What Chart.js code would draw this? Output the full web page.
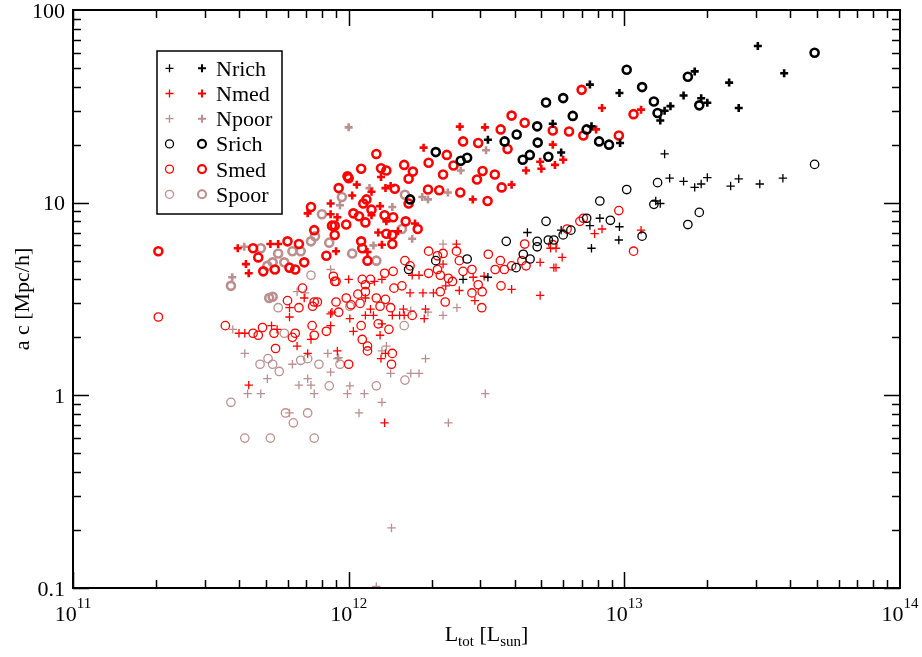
<!DOCTYPE html>
<html><head><meta charset="utf-8">
<script src="https://cdn.jsdelivr.net/npm/chart.js@4/dist/chart.umd.min.js"></script>
<style>html,body{margin:0;padding:0;background:#fff;}canvas{display:block;}</style>
</head><body>
<canvas id="c" width="922" height="657"></canvas>
<script>
// ---- axis ticks ----
const xTickValues = [1e11, 1e12, 1e13, 1e14];
const xTickExponents = ['11', '12', '13', '14'];
const yTickValues = [0.1, 1, 10, 100];
const yTickLabels = ['0.1', '1', '10', '100'];
const seriesNames = ['Nrich', 'Nmed', 'Npoor', 'Srich', 'Smed', 'Spoor'];

// ---- data: [L_tot (L_sun), value (Mpc/h)] ; "A" = upper (a) set, "C" = lower (c) set ----
const nrichA = [[3.05e13,65],[3.8e13,47],[2.4e13,42],[2.6e13,31],[1.8e13,48],[1.64e13,36],[1.9e13,34.8],[2.0e13,33],[1.47e13,31.7],[1.35e13,26.7],[1.4e13,30],[9.6e12,37.1],[7.5e12,41],[5.5e12,25.7],[7.6e12,24.9],[9.65e12,20.4],[5.9e12,18.2],[3.2e12,21.2]];
const nmedA = [[8.3e12,31],[1.15e13,30.4],[7.9e12,24],[5.5e12,20],[4.4e12,14.7],[2.53e12,24.8],[3.12e12,24.6],[1.87e12,19.3],[3.9e12,12.4],[2.82e12,10.4],[1.42e12,12.2],[1.36e12,11.9],[1.31e12,13.6],[1.07e12,12.4],[1.21e12,11.4],[1.03e12,10.9],[1.3e12,9.6],[9.1e11,8.4],[1.21e12,8.6],[1.37e12,8],[1.51e12,7.1],[1.74e12,7.8],[1.28e12,7],[1.17e12,5.55],[1.32e12,6.05],[7.1e11,8.8],[8.6e11,9.9],[8.6e11,8.7],[9.0e11,5.6],[5.2e11,6.1],[5.55e11,6.1],[3.96e11,5.8],[4.24e11,4.8],[4.34e11,4.3],[4.95e12,16.3],[5.0e12,15],[5.6e12,15.7],[6.0e12,16.7]];
const npoorA = [[1.0e12,24.6],[2.29e12,11.3],[1.85e12,10.7],[1.94e12,10.4],[1.19e12,11.9],[1.23e12,6],[4.18e11,5.9],[3.78e11,4.1],[2.55e12,14.7],[3.15e12,18.7],[1.44e12,9.5],[1.7e12,6.5],[9.3e11,9.7]];
const srichA = [[4.9e13,60],[1.02e13,49],[1.7e13,45],[1.87e13,32],[1.28e13,33.5],[1.32e13,29.2],[1.16e13,39.8],[6.0e12,34.9],[5.2e12,33.1],[6.5e12,28.2],[4.83e12,24.9],[7.3e12,24],[8.1e12,20.8],[8.8e12,20],[4.85e12,20.5],[5.3e12,17.3],[4.07e12,22.6],[3.68e12,20.8],[4.28e12,16.7],[4.54e12,17.7],[2.07e12,18.3],[2.69e12,17.1],[2.55e12,16.5],[1.67e12,10.4]];
const smedA = [[7.0e12,38.5],[1.08e13,28.8],[5.5e12,23.7],[6.3e12,23.4],[7.1e12,22.3],[9.55e12,22.3],[3.9e12,28.3],[3.56e12,24],[4.35e12,26],[3.77e12,19],[2.95e12,20.4],[2.6e12,20.8],[2.27e12,17.7],[1.95e12,16.1],[1.26e12,17.9],[1.59e12,15.7],[1.71e12,14.5],[2.2e12,14],[2.4e12,15.6],[3.06e12,14.6],[2.92e12,13.2],[3.39e12,14],[3.59e12,12],[3.19e12,10.2],[2.54e12,11.3],[2.13e12,11.6],[1.94e12,11.7],[1.65e12,13.3],[1.37e12,14.7],[1.47e12,11.8],[1.65e12,9.9],[1.31e12,15.1],[1.11e12,15],[9.9e11,13.7],[1.0e12,13.4],[9.2e11,11.9],[1.16e12,10.4],[1.13e12,9.9],[1.21e12,9.2],[1.04e12,8.8],[1.09e12,8.5],[9.8e11,7.7],[8.9e11,7.6],[1.15e12,7.9],[1.35e12,8.6],[1.45e12,8.4],[1.37e12,6.9],[1.44e12,6.8],[1.61e12,8],[1.78e12,7.3],[1.11e12,6.3],[1.12e12,5.8],[1.17e12,5],[1.44e12,6.1],[7.3e11,9.5],[8.7e11,7.6],[7.5e11,7.2],[8.9e11,6.8],[8.3e11,5.3],[6.6e11,6.1],[6.9e11,4.9],[6.4e11,4.5],[6.1e11,4.6],[6.0e11,6.3],[5.4e11,4.5],[4.9e11,4.4],[4.7e11,5.2],[4.5e11,5.8],[2.04e11,5.6]];
const spoorA = [[1.6e12,11],[9.45e11,10.7],[1.56e12,7.3],[1.03e12,5.45],[1.26e12,5],[8.0e11,8.7],[7.55e11,6.7],[7.3e11,6.3],[8.5e11,6.2],[6.25e11,5.6],[6.7e11,5.6],[5.84e11,4.9],[5.55e11,5.45],[5.3e11,4.9],[4.8e11,5.8],[5.07e11,4.7],[3.74e11,3.7],[5.15e11,3.2],[5.3e11,3.25]];

const nrichC = [[1.4e13,17.9],[3.76e13,13.4],[3.1e13,12.5],[2.6e13,13.3],[2.43e13,12.2],[2.0e13,13.5],[1.9e13,12.5],[1.8e13,12],[1.64e13,12.9],[1.46e13,13.4],[1.3e13,10.2],[1.35e13,9.9],[8.15e12,8.3],[7.5e12,7.6],[9.6e12,7.5],[9.55e12,6.4],[7.6e12,5.8],[5.9e12,7.2],[4.45e12,7],[2.6e12,4],[3.2e12,4.1]];
const nmedC = [[8.3e12,7.3],[7.8e12,6.9],[1.15e13,7.2],[5.65e12,5.8],[5.4e12,5.8],[5.95e12,5.2],[4.95e12,4.9],[5.55e12,4.6],[5.65e12,4.6],[4.95e12,3.3],[2.2e12,4.8],[2.46e12,6.1],[1.8e12,4.2],[1.7e12,4.2],[1.32e12,4.0],[1.0e12,4.0],[1.24e12,3.9],[1.67e12,3.4],[1.86e12,3.4],[2.03e12,3.4],[2.25e12,3.7],[2.52e12,3.5],[2.83e12,4.1],[2.87e12,3.1],[3.1e12,4.15],[3.9e12,3.55],[1.88e12,2.5],[1.9e12,2.8],[1.59e12,2.6],[1.53e12,2.6],[1.58e12,2.8],[1.32e12,2.35],[1.3e12,2.05],[1.04e12,2.15],[1.36e12,1.65],[1.31e12,1.55],[1.35e12,0.72],[9.1e11,1.7],[1.01e12,2.5],[1.15e12,2.6],[1.23e12,2.6],[1.2e12,2.8],[1.15e12,3.2],[1.44e12,2.6],[4.0e11,2.1],[4.2e11,2.1],[5.25e11,2.3],[5.5e11,2.2],[6.5e11,1.8],[7.3e11,1.95],[8.6e11,2.3],[8.7e11,2.7],[7.1e11,1.65],[4.34e11,1.13],[6.1e11,2.85],[6.1e11,2.55],[6.9e11,3.2],[8.6e11,2.65]];
const npoorC = [[2.2e12,6.1],[2.47e12,2.85],[2.2e12,2.6],[1.94e12,2.7],[1.68e12,2.75],[1.37e12,1.8],[1.32e12,1.7],[1.9e12,1.55],[1.68e12,1.3],[1.8e12,1.3],[1.42e12,1.3],[1.01e12,1.12],[9.9e11,1.02],[1.14e12,1.02],[1.32e12,0.92],[1.09e12,0.81],[2.3e12,0.72],[3.13e12,1.02],[9.2e11,1.57],[3.8e11,2.2],[4.2e11,1.65],[8.4e11,1.65],[6.25e11,1.45],[9.1e11,1.55],[8.6e11,1.32],[5.07e11,1.22],[4.3e11,1.02],[4.8e11,1.02],[6.6e11,1.13],[7.1e11,1.22],[7.3e11,1.13],[7.5e11,1.02],[6.1e11,0.81],[6.95e11,3.4],[6.5e11,3.45],[8.6e11,4.5],[1.43e12,0.205],[1.26e12,0.102]];
const srichC = [[4.9e13,15.8],[1.32e13,12.7],[1.87e13,8.9],[1.7e13,7.7],[1.28e13,9.8],[1.02e13,11.7],[8.15e12,10.2],[8.9e12,8.1],[7.3e12,8.3],[1.16e13,6.7],[6.4e12,7.2],[6.0e12,6.8],[5.2e12,8.0],[4.83e12,6.3],[4.83e12,5.9],[5.3e12,6.4],[5.55e12,6.4],[4.55e12,5.1],[4.3e12,5.4],[3.73e12,6.3],[4.05e12,4.6],[2.07e12,5],[2.69e12,5.1],[1.65e12,4.5]];
const smedC = [[9.55e12,9.1],[7.1e12,8.3],[6.9e12,8.0],[1.08e13,5.6],[6.2e12,7.3],[5.5e12,6.05],[4.35e12,6.1],[1.95e12,5.6],[2.1e12,5.3],[2.2e12,5.45],[2.46e12,5.6],[3.21e12,5.4],[2.52e12,5],[2.6e12,4.4],[1.6e12,5.0],[1.67e12,4.7],[1.95e12,4.3],[2.1e12,4.5],[2.15e12,4.2],[2.3e12,4.05],[1.45e12,4.4],[1.35e12,4.3],[1.2e12,4.0],[1.12e12,4.0],[8.9e11,3.9],[1.15e12,3.75],[1.46e12,3.6],[1.56e12,3.7],[2.15e12,3.45],[2.24e12,3.05],[2.38e12,3.9],[2.8e12,4.5],[2.95e12,3.75],[3.05e12,3.45],[3.04e12,2.85],[2.8e12,3.4],[3.4e12,4.5],[3.55e12,5.0],[3.57e12,3.7],[3.67e12,4.5],[3.9e12,4.7],[4.25e12,5.0],[4.4e12,4.7],[1.7e12,2.6],[1.42e12,2.85],[1.3e12,2.9],[1.28e12,2.35],[1.4e12,2.2],[1.11e12,2.3],[1.12e12,1.95],[1.17e12,1.8],[1.17e12,1.7],[1.44e12,1.65],[1.43e12,1.45],[1.0e12,1.45],[9.8e11,3.2],[9.0e11,3.05],[1.02e12,2.95],[1.1e12,3.0],[9.2e11,2.7],[1.26e12,3.2],[1.36e12,3.15],[1.15e12,3.45],[1.08e12,3.35],[2.04e11,2.55],[3.57e11,2.3],[4.5e11,2.1],[4.7e11,2.05],[4.87e11,2.25],[5.36e11,2.1],[6.4e11,2.1],[6.25e11,2.0],[5.43e11,1.75],[7.37e11,2.3],[7.5e11,2.05],[8.3e11,2.15],[6.0e11,3.1],[6.6e11,2.85],[6.8e11,3.6],[7.4e11,2.9],[7.5e11,3.05],[7.7e11,3.05],[8.8e11,4.15],[9.0e11,3.9]];
const spoorC = [[1.59e12,2.3],[1.6e12,1.2],[1.26e12,1.12],[9.3e11,1.45],[5.84e11,2.1],[4.77e11,1.45],[5.1e11,1.55],[5.3e11,1.45],[5.6e11,1.33],[6.7e11,1.52],[7.1e11,1.55],[7.8e11,1.45],[8.5e11,1.12],[3.74e11,0.92],[5.9e11,0.81],[7.1e11,0.81],[6.3e11,0.72],[4.2e11,0.6],[5.2e11,0.6],[7.5e11,0.6],[5.55e11,2.85],[7.3e11,4.2],[1.01e12,2.9]];

// ---- styling ----
const BLACK = '#000000', RED = '#ff0000', GREY = '#bc8f8f';
const groups = [
  {name: seriesNames[0], color: BLACK, shape: 'cross',  a: nrichA, c: nrichC},
  {name: seriesNames[1], color: RED,   shape: 'cross',  a: nmedA,  c: nmedC},
  {name: seriesNames[2], color: GREY,  shape: 'cross',  a: npoorA, c: npoorC},
  {name: seriesNames[3], color: BLACK, shape: 'circle', a: srichA, c: srichC},
  {name: seriesNames[4], color: RED,   shape: 'circle', a: smedA,  c: smedC},
  {name: seriesNames[5], color: GREY,  shape: 'circle', a: spoorA, c: spoorC}
];
const THIN = 1.3, THICK = 2.6;
const toXY = arr => arr.map(p => ({x: p[0], y: p[1]}));

const datasets = [];
// draw order: grey first, then red, then black (later datasets on top via 'order')
const drawRank = {'#bc8f8f': 3, '#ff0000': 2, '#000000': 1};
groups.forEach(g => {
  datasets.push({label: g.name + ' c', data: toXY(g.c), pointStyle: g.shape, radius: g.shape === 'cross' ? 4.2 : 4.2,
    borderColor: g.color, backgroundColor: 'rgba(0,0,0,0)', borderWidth: THIN, showLine: false, order: drawRank[g.color]});
  datasets.push({label: g.name + ' a', data: toXY(g.a), pointStyle: g.shape, radius: g.shape === 'cross' ? 4 : 4,
    borderColor: g.color, backgroundColor: 'rgba(0,0,0,0)', borderWidth: THICK, showLine: false, order: drawRank[g.color]});
});

const SERIF = '"Liberation Serif", "DejaVu Serif", serif';

function drawSymbol(ctx, shape, x, y, r, color, lw) {
  ctx.save();
  ctx.strokeStyle = color; ctx.lineWidth = lw;
  ctx.beginPath();
  if (shape === 'cross') {
    ctx.moveTo(x - r, y); ctx.lineTo(x + r, y);
    ctx.moveTo(x, y - r); ctx.lineTo(x, y + r);
  } else {
    ctx.arc(x, y, r, 0, Math.PI * 2);
  }
  ctx.stroke();
  ctx.restore();
}

const decor = {
  id: 'decor',
  afterDraw(chart) {
    const ctx = chart.ctx, ca = chart.chartArea;
    const xs = chart.scales.x, ys = chart.scales.y;
    ctx.save();
    ctx.strokeStyle = '#000'; ctx.lineWidth = 1.5;
    // ticks
    const MAJ = 16, MIN = 8;
    ctx.beginPath();
    for (let d = 11; d <= 13; d++) {
      for (let m = 1; m <= 9; m++) {
        const px = Math.round(xs.getPixelForValue(m * Math.pow(10, d))) + 0.5;
        const len = m === 1 ? MAJ : MIN;
        ctx.moveTo(px, ca.bottom); ctx.lineTo(px, ca.bottom - len);
        ctx.moveTo(px, ca.top); ctx.lineTo(px, ca.top + len);
      }
    }
    for (let d = -1; d <= 1; d++) {
      for (let m = 1; m <= 9; m++) {
        const py = Math.round(ys.getPixelForValue(m * Math.pow(10, d))) + 0.5;
        const len = m === 1 ? MAJ : MIN;
        ctx.moveTo(ca.left, py); ctx.lineTo(ca.left + len, py);
        ctx.moveTo(ca.right, py); ctx.lineTo(ca.right - len, py);
      }
    }
    ctx.stroke();
    // frame
    ctx.lineWidth = 2;
    ctx.strokeRect(ca.left, ca.top, ca.right - ca.left, ca.bottom - ca.top);

    ctx.fillStyle = '#000';
    // y tick labels
    ctx.font = '22px ' + SERIF;
    ctx.textAlign = 'right'; ctx.textBaseline = 'alphabetic';
    yTickValues.forEach((v, i) => {
      const py = ys.getPixelForValue(v);
      ctx.fillText(yTickLabels[i], ca.left - 8, py + 7.5);
    });
    // x tick labels 10^n
    xTickValues.forEach((v, i) => {
      const px = xs.getPixelForValue(v);
      ctx.font = '22px ' + SERIF;
      const wb = ctx.measureText('10').width;
      ctx.font = '15px ' + SERIF;
      const we = ctx.measureText(xTickExponents[i]).width;
      const x0 = px - (wb + we) / 2;
      ctx.textAlign = 'left';
      ctx.font = '22px ' + SERIF;
      ctx.fillText('10', x0, 621);
      ctx.font = '15px ' + SERIF;
      ctx.fillText(xTickExponents[i], x0 + wb, 608);
    });
    // x axis title
    const parts = [['L', 22, 0], ['tot', 15, 5], [' [L', 22, 0], ['sun', 15, 5], [']', 22, 0]];
    let tw = 0;
    parts.forEach(p => { ctx.font = p[1] + 'px ' + SERIF; tw += ctx.measureText(p[0]).width; });
    let tx = (ca.left + ca.right) / 2 - tw / 2;
    parts.forEach(p => {
      ctx.font = p[1] + 'px ' + SERIF;
      ctx.fillText(p[0], tx, 641 + p[2]);
      tx += ctx.measureText(p[0]).width;
    });
    // y axis title
    ctx.save();
    ctx.translate(29, (ca.top + ca.bottom) / 2);
    ctx.rotate(-Math.PI / 2);
    ctx.font = '22px ' + SERIF;
    ctx.textAlign = 'center';
    ctx.fillText('a c [Mpc/h]', 0, 0);
    ctx.restore();

    // legend
    const lx = 157, ly = 51, lw = 125, lh = 163;
    ctx.fillStyle = '#fff';
    ctx.fillRect(lx, ly, lw, lh);
    ctx.strokeStyle = '#000'; ctx.lineWidth = 1.5;
    ctx.strokeRect(lx, ly, lw, lh);
    groups.forEach((g, i) => {
      const y = 68.3 + i * 25.2;
      drawSymbol(ctx, g.shape, 169.5, y, 4, g.color, THIN);
      drawSymbol(ctx, g.shape, 202, y, 4, g.color, THICK * 0.8);
      ctx.fillStyle = '#000';
      ctx.font = '22px ' + SERIF;
      ctx.textAlign = 'left';
      ctx.fillText(g.name, 216, y + 7.5);
    });
    ctx.restore();
  }
};

new Chart(document.getElementById('c'), {
  type: 'scatter',
  data: {datasets},
  options: {
    responsive: false,
    animation: false,
    devicePixelRatio: 1,
    layout: {padding: {left: 73, right: 22, top: 10, bottom: 69}},
    plugins: {legend: {display: false}, tooltip: {enabled: false}},
    scales: {
      x: {type: 'logarithmic', min: 1e11, max: 1e14, display: false},
      y: {type: 'logarithmic', min: 0.1, max: 100, display: false}
    }
  },
  plugins: [decor]
});
</script>
</body></html>
